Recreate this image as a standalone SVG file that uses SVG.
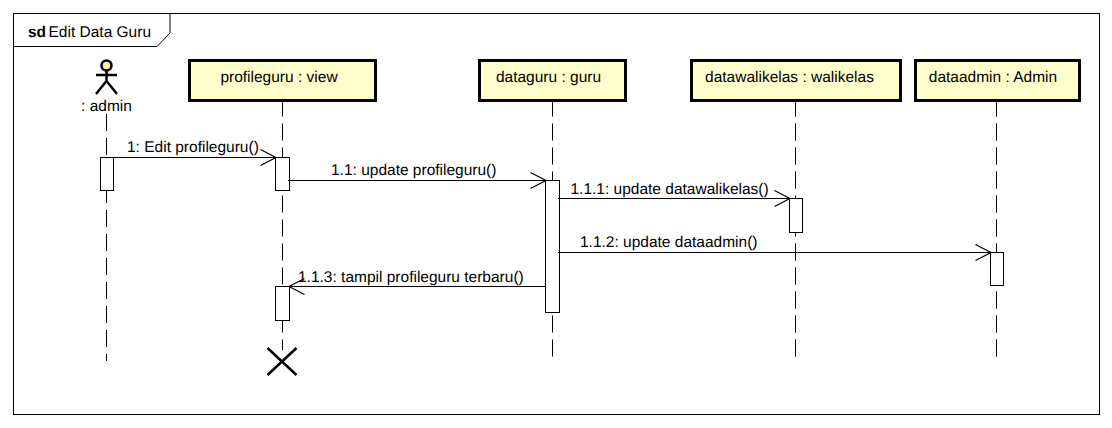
<svg xmlns="http://www.w3.org/2000/svg" width="1112" height="428" viewBox="0 0 1112 428">
<style>
text{font-family:"Liberation Sans",Arial,sans-serif;font-size:15.500px;fill:#000;text-rendering:geometricPrecision}
.head{fill:#ffffcc;stroke:#000;stroke-width:3}
.act{fill:#fff;stroke:#000;stroke-width:1}
.life{fill:none;stroke:#000;stroke-width:1;stroke-dasharray:17 7}
.msg{fill:none;stroke:#000;stroke-width:1.2;marker-end:url(#open)}
.c{text-anchor:middle}
</style>
<defs>
<marker id="open" markerUnits="userSpaceOnUse" markerWidth="20" markerHeight="20" refX="17" refY="10" orient="auto" overflow="visible">
<path d="M1.500 2 L17 10 L1.500 18" fill="none" stroke="#000" stroke-width="1.200"/>
</marker>
</defs>
<rect width="1112" height="428" fill="#fff"/>
<g id="frame">
<rect x="13.500" y="13.500" width="1086" height="401" fill="#fff" stroke="#000"/>
<path d="M13.500 46.500H157L170 33V13.500" fill="none" stroke="#000"/>
<text x="28" y="37" font-weight="bold">sd</text>
<text x="48.500" y="37">Edit Data Guru</text>
</g>
<g id="lifelines">
<path class="life" d="M106.500 114V361"/>
<path class="life" d="M282.500 99.500V350"/>
<path class="life" d="M552.500 99.500V357"/>
<path class="life" d="M795.500 99.500V357"/>
<path class="life" d="M996.500 99.500V357"/>
</g>
<g id="actor-admin">
<circle cx="106.500" cy="65.500" r="5" fill="#ffeeaa" stroke="#000" stroke-width="2.500"/>
<path d="M106.500 71V81M96 75H117M96 94L106.500 81L117 94" fill="none" stroke="#000" stroke-width="2.500"/>
<text class="c" x="106.500" y="111">: admin</text>
</g>
<g id="node-profileguru">
<rect class="head" x="189.500" y="60.500" width="186" height="40"/>
<text class="c" x="279" y="82">profileguru : view</text>
</g>
<g id="node-dataguru">
<rect class="head" x="479.500" y="60.500" width="146" height="40"/>
<text class="c" x="548.500" y="82">dataguru : guru</text>
</g>
<g id="node-datawalikelas">
<rect class="head" x="691.500" y="60.500" width="209" height="40"/>
<text class="c" x="789.500" y="82">datawalikelas : walikelas</text>
</g>
<g id="node-dataadmin">
<rect class="head" x="915.500" y="60.500" width="164" height="40"/>
<text class="c" x="993" y="82">dataadmin : Admin</text>
</g>
<g id="activations">
<rect class="act" x="100.500" y="157.500" width="13" height="33"/>
<rect class="act" x="275.500" y="157.500" width="14" height="33"/>
<rect class="act" x="545.500" y="180.500" width="14" height="132"/>
<rect class="act" x="789.500" y="198.500" width="13" height="34"/>
<rect class="act" x="990.500" y="252.500" width="13" height="33"/>
<rect class="act" x="275.500" y="286.500" width="14" height="34"/>
</g>
<g id="destroy">
<path d="M267.500 348L296.500 375M296.500 348L267.500 375" fill="none" stroke="#000" stroke-width="2.500"/>
</g>
<g id="connectors">
<path class="msg" d="M113.500 157.500H276"/>
<path class="msg" d="M288 180.500H546"/>
<path class="msg" d="M558 198.500H790"/>
<path class="msg" d="M558 252.500H991"/>
<path class="msg" d="M546 286.500H289"/>
<text x="127" y="152">1: Edit profileguru()</text>
<text x="331" y="175">1.1: update profileguru()</text>
<text x="570.500" y="194">1.1.1: update datawalikelas()</text>
<text x="580" y="246.500">1.1.2: update dataadmin()</text>
<text x="298" y="282">1.1.3: tampil profileguru terbaru()</text>
</g>
</svg>
